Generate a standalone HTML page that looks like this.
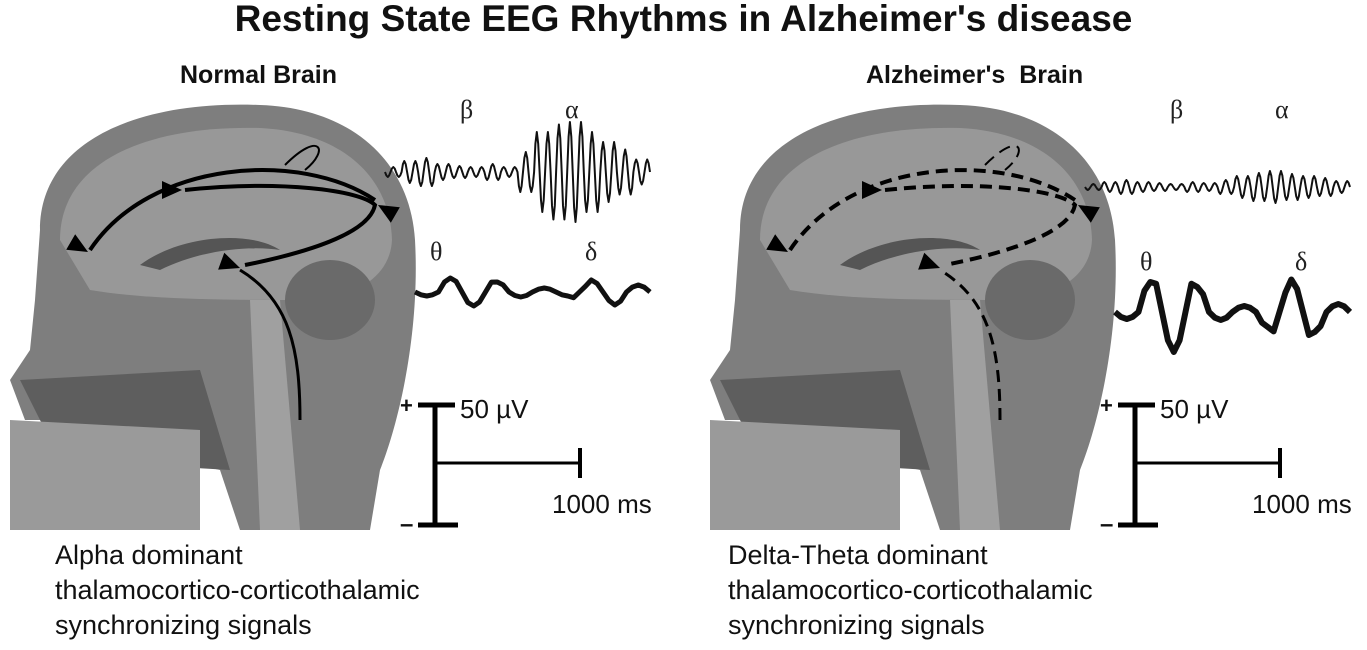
<!DOCTYPE html>
<html><head><meta charset="utf-8"><style>
body{margin:0;background:#fff;width:1367px;height:650px;overflow:hidden;font-family:"Liberation Sans",sans-serif;position:relative}
.t{position:absolute;white-space:nowrap;color:#111}
</style></head><body>
<div class="t" style="left:0;width:1367px;text-align:center;top:-2px;font-size:37px;font-weight:bold">Resting State EEG Rhythms in Alzheimer's disease</div>
<div class="t" style="left:180px;top:61px;font-size:25px;font-weight:bold">Normal Brain</div>
<div class="t" style="left:866px;top:61px;font-size:25px;font-weight:bold">Alzheimer's&nbsp; Brain</div>
<div class="t" style="left:55px;top:538px;font-size:27px;line-height:35px">Alpha dominant<br>thalamocortico-corticothalamic<br>synchronizing signals</div>
<div class="t" style="left:728px;top:538px;font-size:27px;line-height:35px">Delta-Theta dominant<br>thalamocortico-corticothalamic<br>synchronizing signals</div>
<svg id="svg" width="1367" height="650" style="position:absolute;left:0;top:0"></svg>
<script>
// amplitude envelopes (px) of EEG segments
const betaAlphaNormal=[10,22,28,16,12,10,16,10,40,80,95,100,80,60,45,25];
const thetaDeltaNormal=[8,28,30,28,20,10,8,8,16,24,26,14];
const betaAlphaAD=[6,10,14,10,8,6,10,8,14,22,28,32,26,22,18,12];
const thetaDeltaAD=[14,60,80,80,50,16,12,30,55,65,40,16];
const greek=["β","α","θ","δ"];
const S=document.getElementById('svg');const NS='http://www.w3.org/2000/svg';
function el(t,a,name){const e=document.createElementNS(NS,t);for(const k in a)e.setAttribute(k,a[k]);


S.appendChild(e);return e;}
function wave(x0,x1,yc,amps,cycles,w,name){let d='';const n=cycles*8;
for(let i=0;i<=n;i++){const f=i/n;const ai=Math.min(amps.length-1,Math.floor(f*amps.length));
const y=yc+amps[ai]*Math.sin(i*Math.PI/4)*0.5;d+=(i?'L':'M')+(x0+f*(x1-x0)).toFixed(1)+' '+y.toFixed(1);}
el('path',{d,fill:'none',stroke:'#111','stroke-width':w,'stroke-linejoin':'round'},name);}
function brain(ox,name,dashed){
const g=el('g',{transform:`translate(${ox},0)`},name);
const add=(t,a,n)=>{const e=el(t,a,n);g.appendChild(e);return e;};
add('path',{d:'M40 230 C40 140 140 100 260 105 C350 108 410 160 415 240 C420 330 400 420 380 470 L370 530 L240 530 L220 470 C180 460 120 470 80 460 L60 420 L25 420 L10 380 L30 350 L35 300 Z',fill:'#7e7e7e'},'head-silhouette');
add('path',{d:'M60 240 C60 160 150 125 260 128 C340 132 390 175 392 240 C390 280 350 300 300 300 C230 300 150 300 90 290 Z',fill:'#989898'},'cerebrum');
add('path',{d:'M140 265 C180 235 250 230 280 250 C250 245 200 250 160 270 Z',fill:'#555'},'corpus-callosum');
add('ellipse',{cx:330,cy:300,rx:45,ry:40,fill:'#6a6a6a'},'cerebellum');
add('path',{d:'M250 300 L280 300 L300 530 L260 530 Z',fill:'#a0a0a0'},'brainstem');
add('path',{d:'M20 380 L200 370 L230 470 L60 460 Z',fill:'#5e5e5e'},'face');
add('path',{d:'M10 420 L200 430 L200 530 L10 530 Z',fill:'#9a9a9a'},'jaw');
const st={fill:'none',stroke:'#000','stroke-width':4};if(dashed)st['stroke-dasharray']='12 7';
const p=(d,n)=>add('path',Object.assign({d},st),n);
p('M90 250 C150 160 300 150 375 200','arrow-frontal');
p('M185 190 C280 180 360 190 375 205 C370 230 320 250 245 265','arrow-loop');
p('M300 420 C300 350 290 300 240 270','arrow-thalamic').setAttribute('stroke-width',3);
p('M285 165 C320 130 330 150 305 170','arrow-local').setAttribute('stroke-width',2);
[[88,252,210],[182,190,180],[378,205,30],[240,268,200]].forEach(a=>add('polygon',{points:'0,0 20,-9 20,9',fill:'#000',transform:`translate(${a[0]},${a[1]}) rotate(${a[2]})`},'arrow-head'));
}
brain(0,'normal-brain-image',false);
brain(700,'alzheimer-brain-image',true);
function panel(ox,ba,td,w2,name){
const ad=name==='ad';
wave(ox+385,ox+650,172+(ad?15:0),ba,24,2,name+'-beta-alpha-trace');
wave(ox+415,ox+650,292+(ad?20:0),td,5,w2,name+'-theta-delta-trace');
[[460,118,0],[565,118,1],[430,260,2],[585,260,3]].forEach(a=>{const t=el('text',{x:ox+a[0]+(ad?10:0),y:a[1]+(ad&&a[2]>1?10:0),'font-size':26,'font-family':'Liberation Serif,serif',fill:'#222'},'greek-label');t.textContent=greek[a[2]];});
}
panel(0,betaAlphaNormal,thetaDeltaNormal,5,'normal');
panel(700,betaAlphaAD,thetaDeltaAD,6,'ad');
function scale(ox){
const L=(x1,y1,x2,y2,w)=>el('line',{x1:ox+x1,y1,x2:ox+x2,y2,stroke:'#000','stroke-width':w},'scale-bar');
L(435,405,435,525,5);L(418,405,455,405,5);L(418,525,458,525,5);L(435,463,580,463,3);L(580,448,580,478,4);
const T=(x,y,s,n,sz,b)=>{const t=el('text',{x:ox+x,y,'font-size':sz,'font-weight':b?'bold':'normal',fill:'#111'},n);t.textContent=s;};
T(400,413,'+','scale-plus',22,1);T(400,532,'–','scale-minus',24,1);T(460,418,'50 µV','scale-voltage-label',26);T(552,513,'1000 ms','scale-time-label',26);
}
scale(0);scale(700);
</script>
</body></html>
